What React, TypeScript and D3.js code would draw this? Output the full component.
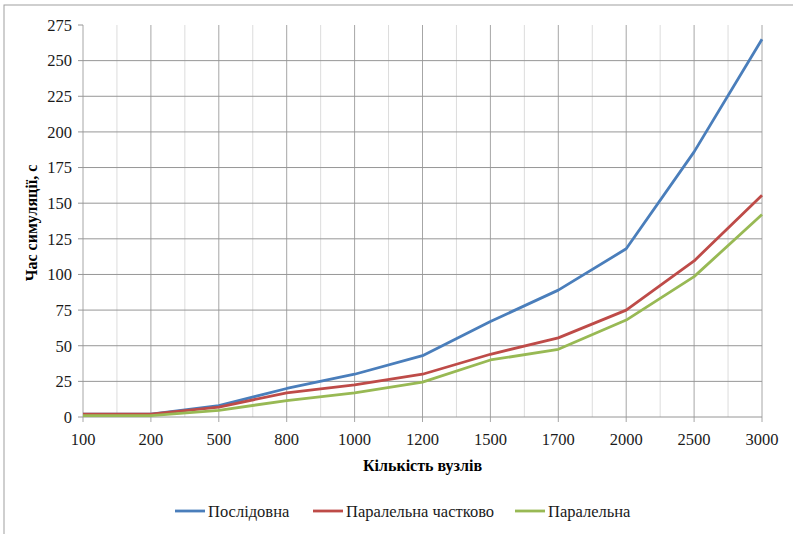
import React from "react";
import * as d3 from "d3";

const categories = ["100", "200", "500", "800", "1000", "1200", "1500", "1700", "2000", "2500", "3000"];
const sequential = [2, 2, 8, 20, 30, 43, 67, 89, 118, 186, 265];
const partialParallel = [2, 2, 7, 17, 22.5, 30, 44, 55.5, 75, 109.5, 155.5];
const parallel = [1, 1, 4.7, 11.5, 17, 24.5, 40, 47.5, 68, 98.5, 142];
const yTicks = [0, 25, 50, 75, 100, 125, 150, 175, 200, 225, 250, 275];
const seriesNames = ["Послідовна", "Паралельна частково", "Паралельна"];
const seriesColors = ["#4a7ebb", "#be4b48", "#98b954"];

const W = 793, H = 534;
const left = 83, right = 762, top = 25, bottom = 417;
const fontStyle = { fontFamily: "Liberation Serif" };

export default function App() {
  const x = d3.scalePoint<string>().domain(categories).range([left, right]);
  const y = d3.scaleLinear().domain([0, 275]).range([bottom, top]);
  const step = x.step();
  const line = d3.line<number>().x((_, i) => x(categories[i]) as number).y((d) => y(d));
  const series = [sequential, partialParallel, parallel];
  const minor = categories.slice(0, -1).map((c) => (x(c) as number) + step / 2);
  const legendX = [175, 313, 515];
  return (
    <svg width={W} height={H} style={{ position: "absolute", left: 0, top: 0, background: "#fff" }}>
      <rect x={4} y={5} width={W + 10} height={H + 10} fill="#fff" stroke="#a0a0a0" strokeWidth={1} />
      {minor.map((m, i) => (
        <line key={"mn" + i} x1={m} x2={m} y1={top} y2={bottom} stroke="#dcdcdc" strokeWidth={1} />
      ))}
      {categories.map((c) => (
        <line key={"mj" + c} x1={x(c)} x2={x(c)} y1={top} y2={bottom + 5} stroke="#a6a6a6" strokeWidth={1} />
      ))}
      {yTicks.map((t) => (
        <g key={"y" + t}>
          {t > 0 && t < 275 ? <line x1={left} x2={right} y1={y(t)} y2={y(t)} stroke="#969696" strokeWidth={1} /> : null}
          <line x1={left - 5} x2={left} y1={y(t)} y2={y(t)} stroke="#969696" />
          <text x={left - 11} y={y(t)} dy="0.35em" textAnchor="end" style={fontStyle} fontSize={16.5} fill="#1a1a1a">
            {t}
          </text>
        </g>
      ))}
      <line x1={left} x2={right} y1={bottom} y2={bottom} stroke="#969696" />
      {categories.map((c) => (
        <text key={"xl" + c} x={x(c)} y={bottom + 28} textAnchor="middle" style={fontStyle} fontSize={16.5} fill="#1a1a1a">
          {c}
        </text>
      ))}
      {series.map((s, i) => (
        <path key={"s" + i} d={line(s) || ""} fill="none" stroke={seriesColors[i]} strokeWidth={2.8} strokeLinejoin="round" />
      ))}
      <text x={(left + right) / 2} y={471} textAnchor="middle" style={fontStyle} fontSize={16} fontWeight="bold" fill="#000">
        Кількість вузлів
      </text>
      <text transform={`translate(37, ${(top + bottom) / 2 + 2}) rotate(-90)`} textAnchor="middle" style={fontStyle} fontSize={16} fontWeight="bold" fill="#000">
        Час симуляції, с
      </text>
      {seriesNames.map((n, i) => (
        <g key={"lg" + i}>
          <line x1={legendX[i]} x2={legendX[i] + 30} y1={511} y2={511} stroke={seriesColors[i]} strokeWidth={2.8} />
          <text x={legendX[i] + 33} y={517} style={fontStyle} fontSize={16.5} fill="#1a1a1a">
            {n}
          </text>
        </g>
      ))}
    </svg>
  );
}
